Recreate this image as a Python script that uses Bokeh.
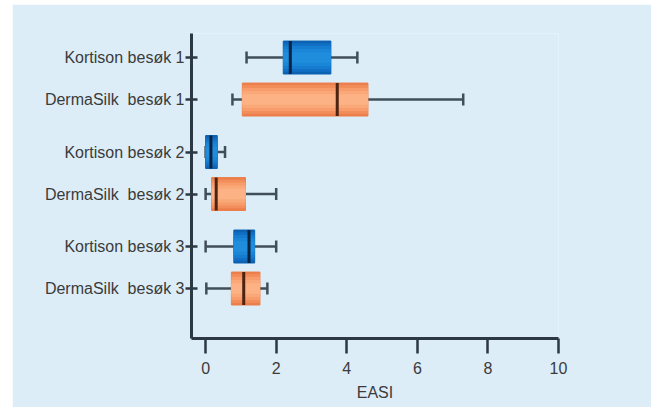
from bokeh.plotting import figure
from bokeh.models import Range1d, FixedTicker, Spacer
from bokeh.layouts import row, column
from bokeh.embed import file_html
from bokeh.resources import INLINE

# ---- data ----
labels = ["Kortison besøk 1", "DermaSilk  besøk 1",
          "Kortison besøk 2", "DermaSilk  besøk 2",
          "Kortison besøk 3", "DermaSilk  besøk 3"]
lower = [1.16, 0.76, 0.00, 0.00, 0.00, 0.02]
q1 = [2.20, 1.04, 0.00, 0.17, 0.80, 0.73]
median = [2.40, 3.73, 0.15, 0.30, 1.23, 1.08]
q3 = [3.55, 4.60, 0.33, 1.13, 1.39, 1.54]
upper = [4.30, 7.30, 0.55, 2.00, 2.00, 1.75]
x_ticks = [0, 2, 4, 6, 8, 10]

# row positions: two rows per visit, extra gap between visits
pos = [4 * i + (i // 2) for i in range(len(labels))]

BG = "#dcedf8"
AX = "#2c3842"
TXT = "#3b3b3b"
WH = "#404e59"

blue = ["#0c62b2", "#116fc4", "#167ccf", "#1b86d7", "#1f8ddc"]
orange = ["#ec7f4c", "#f28e5b", "#f79c6a", "#faa877", "#fcb284"]
med_col = {"blue": "#0a2342", "orange": "#4d2412"}

p = figure(width=639, height=403, output_backend="svg", toolbar_location=None,
           x_range=Range1d(-0.40, 10.0), y_range=Range1d(26.76, -2.29),
           min_border_left=179, min_border_right=93, min_border_top=29,
           min_border_bottom=69)
p.background_fill_color = BG
p.border_fill_color = BG
p.outline_line_color = None
p.xgrid.visible = False
p.ygrid.visible = False

box_h = 3.14
cap_h = 1.14

for i in range(len(labels)):
    y = pos[i]
    # whiskers
    p.segment(x0=[lower[i], q3[i]], y0=[y, y], x1=[q1[i], upper[i]], y1=[y, y],
              line_color=WH, line_width=2.5)
    p.segment(x0=[lower[i], upper[i]], y0=[y - cap_h / 2] * 2,
              x1=[lower[i], upper[i]], y1=[y + cap_h / 2] * 2,
              line_color=WH, line_width=2.5)
    cols = blue if i % 2 == 0 else orange
    # box with simple shading
    for k, frac in enumerate([1.0, 0.86, 0.70, 0.52, 0.32]):
        p.hbar(y=[y], left=[q1[i]], right=[q3[i]], height=box_h * frac,
               fill_color=cols[k], line_color=cols[0] if k == 0 else None,
               line_width=1)
    mc = med_col["blue"] if i % 2 == 0 else med_col["orange"]
    p.segment(x0=[median[i]], y0=[y - box_h / 2], x1=[median[i]], y1=[y + box_h / 2],
              line_color=mc, line_width=3)

# x axis
xa = p.xaxis[0]
xa.ticker = FixedTicker(ticks=x_ticks)
xa.axis_label = "EASI"
xa.axis_line_color = AX
xa.axis_line_width = 3
xa.major_tick_line_color = AX
xa.major_tick_line_width = 2.5
xa.major_tick_in = 0
xa.major_tick_out = 15
xa.minor_tick_line_color = None
xa.major_label_text_font = "Liberation Sans"
xa.major_label_text_font_size = "16px"
xa.major_label_text_color = TXT
xa.major_label_standoff = 8
xa.axis_label_text_font = "Liberation Sans"
xa.axis_label_text_font_size = "16px"
xa.axis_label_text_font_style = "normal"
xa.axis_label_text_color = TXT
xa.axis_label_standoff = 7

# y axis
ya = p.yaxis[0]
ya.ticker = FixedTicker(ticks=pos)
ya.major_label_overrides = {pos[i]: labels[i].replace("  ", "\u00a0 ")
                            for i in range(len(labels))}
ya.axis_line_color = AX
ya.axis_line_width = 3
ya.major_tick_line_color = AX
ya.major_tick_line_width = 2.5
ya.major_tick_in = 6
ya.major_tick_out = 6
ya.minor_tick_line_color = None
ya.major_label_text_font = "Liberation Sans"
ya.major_label_text_font_size = "16px"
ya.major_label_text_color = TXT
ya.major_label_standoff = 1

layout = row(Spacer(width=12, height=403), column(Spacer(width=639, height=4), p))
open("out.html", "w").write(file_html(layout, INLINE))
